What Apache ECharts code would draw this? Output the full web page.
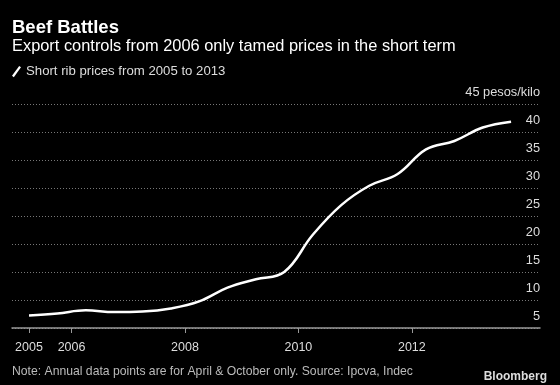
<!DOCTYPE html>
<html>
<head>
<meta charset="utf-8">
<script src="https://cdn.jsdelivr.net/npm/echarts@6/dist/echarts.min.js"></script>
<style>
html,body{margin:0;padding:0;background:#000;}
#chart{width:560px;height:385px;}
</style>
</head>
<body>
<div id="chart"></div>
<script>
// Half-year observations (April & October), x as decimal year
var periods = [2005.25, 2005.75, 2006.25, 2006.75, 2007.25, 2007.75, 2008.25, 2008.75, 2009.25,
               2009.75, 2010.25, 2010.75, 2011.25, 2011.75, 2012.25, 2012.75, 2013.25, 2013.75];
var prices = [7.25, 7.6, 8.15, 7.85, 7.95, 8.5, 9.75, 12.2, 13.7,
              15.0, 21.6, 26.9, 30.4, 32.5, 36.9, 38.4, 40.8, 41.85];
var xTickValues = [2005.25, 2006, 2008, 2010, 2012];
var xTickLabels = ['2005', '2006', '2008', '2010', '2012'];
var yTicks = [5, 10, 15, 20, 25, 30, 35, 40, 45];

var FONT = 'Liberation Sans, Arial, sans-serif';
var chart = echarts.init(document.getElementById('chart'), null, {renderer: 'canvas'});
var seriesData = periods.map(function (p, i) { return [p, prices[i]]; });

chart.setOption({
  backgroundColor: '#000',
  animation: false,
  textStyle: {fontFamily: FONT},
  title: [
    {text: 'Beef Battles', left: 12, top: 13, padding: [5, 5, 5, 0],
     textStyle: {color: '#fff', fontSize: 18.5, fontWeight: 'bold', fontFamily: FONT}},
    {text: 'Export controls from 2006 only tamed prices in the short term', left: 12, top: 33, padding: [5, 5, 5, 0],
     textStyle: {color: '#fff', fontSize: 16.4, fontWeight: 'normal', fontFamily: FONT}},
    {text: 'Note: Annual data points are for April & October only. Source: Ipcva, Indec', left: 12, top: 361, padding: [5, 5, 5, 0],
     textStyle: {color: '#bbb', fontSize: 12.2, fontWeight: 'normal', fontFamily: FONT}},
    {text: 'Bloomberg', right: 13, top: 366, padding: [5, 0, 5, 5],
     textStyle: {color: '#ddd', fontSize: 12, fontWeight: 'bold', fontFamily: FONT}}
  ],
  legend: {
    left: 12, top: 65, padding: 0,
    itemWidth: 9, itemHeight: 12, itemGap: 8,
    icon: 'path://M0,11 L8,0 L10,1.5 L2,12.5 Z',
    data: [{name: 'Short rib prices from 2005 to 2013', itemStyle: {color: '#fff'}}],
    textStyle: {color: '#ddd', fontSize: 13.2, fontFamily: FONT}
  },
  grid: {left: 12, right: 20, top: 104, bottom: 57, containLabel: false},
  xAxis: {
    type: 'value',
    min: 2004.95, max: 2014.26,
    axisLine: {show: true, lineStyle: {color: '#999', width: 1.5}},
    axisTick: {show: true, customValues: xTickValues, length: 5, lineStyle: {color: '#999'}},
    axisLabel: {
      customValues: xTickValues,
      color: '#ddd', fontSize: 12.5, fontFamily: FONT, margin: 13,
      formatter: function (v) {
        var i = xTickValues.indexOf(v);
        return i >= 0 ? xTickLabels[i] : '';
      }
    },
    splitLine: {show: false}
  },
  yAxis: {
    type: 'value',
    position: 'right',
    min: 5, max: 45, interval: 5,
    axisLine: {show: false},
    axisTick: {show: false},
    axisLabel: {
      inside: true, margin: 0,
      color: '#ddd', fontSize: 12.8, fontFamily: FONT,
      verticalAlign: 'bottom', padding: [0, 0, 5, 0],
      formatter: function (v) { return v === 45 ? '45 pesos/kilo' : String(v); }
    },
    splitLine: {show: true, lineStyle: {color: '#777', type: [1, 2], width: 1}}
  },
  series: [{
    name: 'Short rib prices from 2005 to 2013',
    type: 'line',
    data: seriesData,
    smooth: 0.4,
    showSymbol: false,
    symbol: 'none',
    lineStyle: {color: '#fff', width: 2.5},
    itemStyle: {color: '#fff'}
  }]
});
</script>
</body>
</html>
